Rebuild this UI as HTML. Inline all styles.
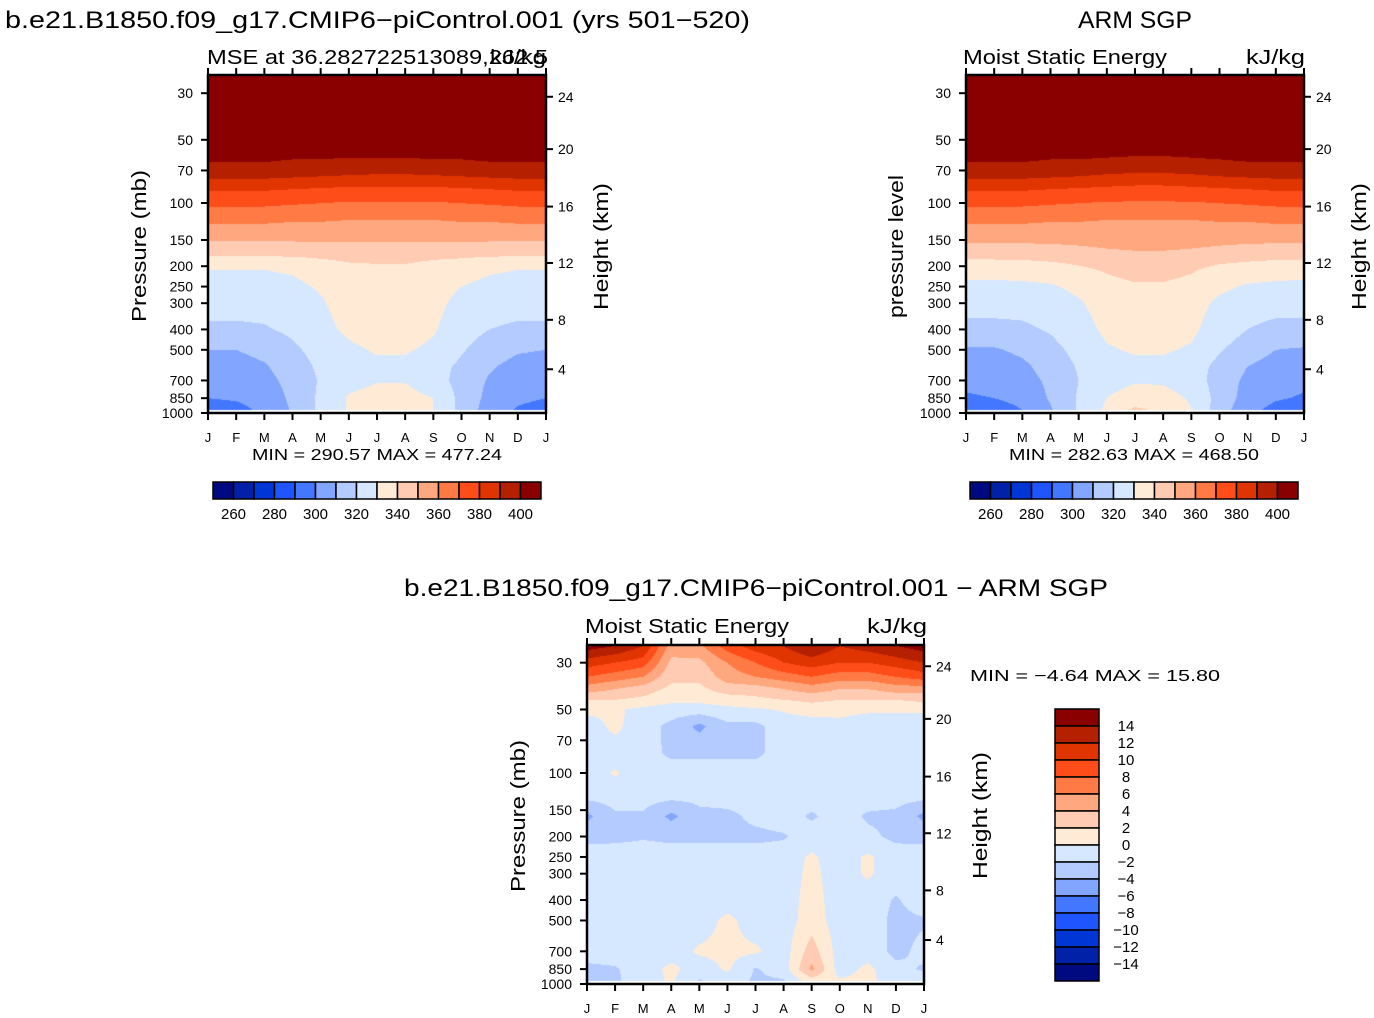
<!DOCTYPE html>
<html><head><meta charset="utf-8">
<style>
html,body{margin:0;padding:0;background:#fff;}
#root{position:relative;width:1374px;height:1018px;overflow:hidden;font-family:"Liberation Sans",sans-serif;}
canvas{position:absolute;}
svg{position:absolute;left:0;top:0;}
text{font-family:"Liberation Sans",sans-serif;fill:#000;}
</style></head>
<body>
<div id="root">
<svg id="ov" width="1374" height="1018"></svg>
</div>
<script>
const months=['J','F','M','A','M','J','J','A','S','O','N','D','J'];
const pressureTicks=[30,50,70,100,150,200,250,300,400,500,700,850,1000];
const heightTicks=[4,8,12,16,20,24];
const heightTickP=[619,360,193,104,55.4,31.2];
const palette=['#000a80','#0021a8','#0036d6','#1f55ff','#4477ff','#82a6ff','#b3cbff','#d6e8ff','#ffead6','#ffcbb2','#ffa880','#ff7a45','#ff4d1a','#e03500','#b52000','#8a0000'];
const mseBarLabels=[260,280,300,320,340,360,380,400];
const diffBarLabels=[14,12,10,8,6,4,2,0,-2,-4,-6,-8,-10,-12,-14];

const modelLevels=[25,50,62,70,86,102,123,150,177,208,250,300,400,500,600,700,850,968];
const modelGrid=[
[420,420,420,420,420,420,420,420,420,420,420,420,420],
[410,410,410,410,410,410,410,410,410,410,410,410,410],
[401,401,401,400,400,399,399,399,400,400,401,401,401],
[397,397,397,396,395,394,393,393,394,395,396,397,397],
[381,381,381,380,379,378,378,378,378,379,380,381,381],
[371,371,371,370,369,368,368,368,368,369,370,371,371],
[361,361,361,360,360,359,359,359,359,360,360,361,361],
[351,351,351,351,351,351,351,351,351,351,351,351,351],
[341,341,341,341,342,343,343,343,342,342,341,341,341],
[330,330,330,331,334,337,338,338,336,333,331,330,330],
[327,327,327,328,331,335,337,337,334,330,328,327,327],
[324,324,324,326,329,334,336,336,333,327,325,324,324],
[318,318,319,322,327,332,335,335,331,324,320,318,318],
[310,310,313,318,324,328,331,331,328,321,315,311,310],
[306,306,309,315,322,326,328,328,324,318,311,307,306],
[303,304,307,313,321,327,329.5,329.5,325,316,309,305,303],
[300,301,304,312,322,331,333,333,330,317,307,302,300],
[296,297,302,311,322,331,334,334,330,317,305,299,296]];

const obsLevels=[25,50,62,70,86,102,123,150,177,208,250,300,400,500,600,700,850,968];
const obsGrid=[
[420,420,420,420,420,420,420,420,420,420,420,420,420],
[410,410,410,410,410,410,410,410,410,410,410,410,410],
[401,401,401,400,400,399,398,398,399,400,401,401,401],
[397,397,397,396,395,393,392,392,393,395,396,397,397],
[381,381,381,380,379,378,377,377,378,379,380,381,381],
[371,371,371,370,369,368,368,368,368,369,370,371,371],
[361,361,361,360,360,359,359,359,359,360,360,361,361],
[352,352,352,352,353,354,355,355,354,353,352,352,352],
[343,343,343,344,345,347,348,348,347,345,344,343,343],
[333,333,334,335,338,341,343,343,341,337,335,334,333],
[328,328,328,329,332,337,339,339,337,332,329,328,328],
[324,324,324,326,329,334,336,336,334,328,325,324,324],
[317,317,318,321,326,332,334,334,332,325,320,317,317],
[309,309,312,317,323,329,331,331,329,321,315,310,309],
[305,305,308,314,321,326,328,328,325,317,310,306,305],
[302,303,306,312,320,327,329,329,326,315,308,304,302],
[299,300,303,311,321,330,334,333,329,316,306,301,299],
[294,295,300,309,321,332,342,338,330,315,303,297,294]];

const diffLevels=[25,30,35,40,45,50,60,80,100,130,160,200,250,300,400,500,700,850,968];
const diffGrid=[
[15,14,12,5,5.5,9,11,12,14,12,13,14,15],
[11,10,9,3.5,3.5,6,8,10,11,10,10,11,12],
[8,7,6,2.5,2.5,5,6,7,8,7,7,8,9],
[5,4,3,1.5,1.5,3,3,4,5,4,4,5,5],
[2,2,1.5,0.5,0.5,1,1.5,2,2.5,2,2,2,2.5],
[0.5,0.3,-0.5,-1,-1,-0.5,-0.3,0.2,0.8,0.5,0.3,0.3,0.3],
[-1,0.5,-1.2,-2.5,-4.5,-2.5,-2.5,-1,-1,-0.5,-1,-1,-1],
[-1,-1,-1,-2.5,-2.5,-2.5,-2.5,-1,-1,-1,-1,-1,-1],
[-1,0.2,-1,-1,-1,-1,-1,-1,-1,-1,-1,-1,-1],
[-1.5,-1.2,-1.2,-1.5,-1.5,-1.2,-1,-1,-1,-1,-1,-1.2,-1.5],
[-4.5,-2.3,-2.3,-4.5,-2.5,-2.5,-1.5,-1,-2.3,-1,-2.3,-2.5,-4.5],
[-2.5,-2.5,-2.2,-2.5,-2.5,-2.5,-2.5,-2.2,-1,-1,-1.5,-2.5,-2.5],
[-1.2,-1,-1,-1,-1,-1,-1,-1,0.3,-1,0.3,-1,-1.2],
[-1,-1,-1,-1,-1,-1,-1,-1,0.5,-1,0.3,-1,-1],
[-1,-1,-1,-1,-1,-1,-1,-1,0.8,-1,-1,-2.2,-1],
[-1,-1,-1,-1,-1,0.5,-1,-1,1,-1,-1,-2.5,-2.2],
[-1,-1,-1,-1,0.3,0.5,0.3,-1,3,-1,-1,-2.5,-1.5],
[-2.5,-2.2,-1,0.5,-1,0.3,-2.2,-1,4.5,-1,0.5,-1.5,-2.2],
[-2.3,-2.3,-1,0.3,-2.2,-1,-2.3,-2.2,1,0.3,0.5,-1,-1]];

const NS='http://www.w3.org/2000/svg';
const ov=document.getElementById('ov');
function hex(c){return [parseInt(c.substr(1,2),16),parseInt(c.substr(3,2),16),parseInt(c.substr(5,2),16)];}
const rgb=palette.map(hex);
function mk(tag,attrs,parent){const e=document.createElementNS(NS,tag);for(const k in attrs)e.setAttribute(k,attrs[k]);(parent||ov).appendChild(e);return e;}
function txt(s,x,y,size,anchor,extra){const t=mk('text',Object.assign({x:x,y:y,'font-size':size,'text-anchor':anchor||'start'},extra||{}));t.textContent=s;return t;}
function mseIdx(v){return Math.max(0,Math.min(15,Math.floor((v-250)/10)));}
function diffIdx(v){return Math.max(0,Math.min(15,Math.floor((v+16)/2)));}

function panel(o){
  const cv=document.createElement('canvas');
  cv.width=o.w;cv.height=o.h;cv.style.left=o.x+'px';cv.style.top=o.y+'px';
  
  
  document.getElementById('root').insertBefore(cv,ov);
  const ctx=cv.getContext('2d');const img=ctx.createImageData(o.w,o.h);
  const L=o.levels.map(p=>Math.log10(p));const n=L.length;
  for(let j=0;j<o.h;j++){
    const yy=o.y+j+0.5;const lp=3-(o.yb-yy)/o.ppd;
    let k,t,white=false;
    if(lp>L[n-1]){white=true;}
    else if(lp<=L[0]){k=0;t=0;}
    else{k=0;while(k<n-2&&lp>L[k+1])k++;t=(lp-L[k])/(L[k+1]-L[k]);}
    for(let i=0;i<o.w;i++){
      const q=(j*o.w+i)*4;
      if(white){img.data[q]=255;img.data[q+1]=255;img.data[q+2]=255;img.data[q+3]=255;continue;}
      const cx=(i+0.5)/o.w*12;const c0=Math.min(11,Math.floor(cx));const u=cx-c0;
      const g=o.grid;
      const a=g[k][c0]*(1-u)+g[k][c0+1]*u;
      const b=g[k+1][c0]*(1-u)+g[k+1][c0+1]*u;
      const v=a*(1-t)+b*t;
      const c=rgb[o.idx(v)];
      img.data[q]=c[0];img.data[q+1]=c[1];img.data[q+2]=c[2];img.data[q+3]=255;
    }
  }
  ctx.putImageData(img,0,0);
  const yOf=p=>o.yb-o.ppd*Math.log10(1000/p);
  const frame=mk('rect',{x:o.x,y:o.y,width:o.w,height:o.h,fill:'none',stroke:'#000','stroke-width':2.5});
  
  
  pressureTicks.forEach(p=>{
    const y=yOf(p);
    const l=mk('line',{x1:o.x-7,x2:o.x,y1:y,y2:y,stroke:'#000','stroke-width':2});
    
    
    const t=txt(String(p),o.x-15,y+5,14,'end');
    
    
  });
  heightTicks.forEach((h,i)=>{
    const y=yOf(heightTickP[i]);
    const l=mk('line',{x1:o.x+o.w,x2:o.x+o.w+7,y1:y,y2:y,stroke:'#000','stroke-width':2});
    
    
    const t=txt(String(h),o.x+o.w+12,y+5,14,'start');
    
    
  });
  months.forEach((m,i)=>{
    const x=o.x+o.w*i/12;
    const l1=mk('line',{x1:x,x2:x,y1:o.y-7,y2:o.y,stroke:'#000','stroke-width':2});
    
    
    const l2=mk('line',{x1:x,x2:x,y1:o.y+o.h,y2:o.y+o.h+7,stroke:'#000','stroke-width':2});
    
    
    const t=txt(m,x,o.y+o.h+29,13,'middle');
    
    
  });
}
function hbar(x,y,w,h,name){
  const bw=w/16;
  for(let i=0;i<16;i++){
    const r=mk('rect',{x:x+i*bw,y:y,width:bw,height:h,fill:palette[i],stroke:'#000','stroke-width':1.5});
    
    
  }
  mseBarLabels.forEach(v=>{
    const k=(v-250)/10;
    const t=txt(String(v),x+k*bw,y+37,15,'middle');
    
    
  });
}
function vbar(x,y,w,h,name){
  const bh=h/16;
  for(let i=0;i<16;i++){
    const r=mk('rect',{x:x,y:y+i*bh,width:w,height:bh,fill:palette[15-i],stroke:'#000','stroke-width':1.5});
    
    
  }
  diffBarLabels.forEach(v=>{
    const k=(14-v)/2+1;
    const t=txt(String(v).replace('-','\u2212'),x+w+27,y+k*bh+5,15,'middle');
    
    
  });
}

panel({name:'model-panel',x:208,y:75,w:338,h:338,yb:413,ppd:210,levels:modelLevels,grid:modelGrid,idx:mseIdx});
panel({name:'obs-panel',x:966,y:75,w:338,h:338,yb:413,ppd:210,levels:obsLevels,grid:obsGrid,idx:mseIdx});
panel({name:'diff-panel',x:587,y:645,w:337,h:339,yb:984,ppd:211,levels:diffLevels,grid:diffGrid,idx:diffIdx});
hbar(213,482,328,17,'model-colorbar');
hbar(970,482,328,17,'obs-colorbar');
vbar(1055,709,44,272,'diff-colorbar');

function label(s,x,y,size,anchor,len,name,rot){
  const ex={};
  if(len){ex.textLength=len;ex.lengthAdjust='spacingAndGlyphs';}
  if(rot){ex.transform='rotate(-90 '+x+' '+y+')';}
  const t=txt(s,x,y,size,anchor,ex);
  
  
}
label('b.e21.B1850.f09_g17.CMIP6\u2212piControl.001 (yrs 501\u2212520)',5,28,24,'start',745,'model-title');
label('ARM SGP',1078,28,24,'start',114,'obs-title');
label('MSE at 36.282722513089,262.5',207,64,20,'start',341,'model-subtitle');
label('kJ/kg',490,64,20,'start',56,'model-units');
label('Moist Static Energy',963,64,20,'start',204,'obs-subtitle');
label('kJ/kg',1246,64,20,'start',59,'obs-units');
label('Pressure (mb)',146,322,20,'start',152,'model-y-axis-title',true);
label('pressure level',903,318,20,'start',143,'obs-y-axis-title',true);
label('Height (km)',608,310,20,'start',127,'model-right-axis-title',true);
label('Height (km)',1366,310,20,'start',127,'obs-right-axis-title',true);
label('MIN = 290.57 MAX = 477.24',252,460,16,'start',250,'model-min-max');
label('MIN = 282.63 MAX = 468.50',1009,460,16,'start',250,'obs-min-max');
label('b.e21.B1850.f09_g17.CMIP6\u2212piControl.001 \u2212 ARM SGP',404,596,24,'start',704,'diff-title');
label('Moist Static Energy',585,633,20,'start',204,'diff-subtitle');
label('kJ/kg',867,633,20,'start',60,'diff-units');
label('Pressure (mb)',525,892,20,'start',152,'diff-y-axis-title',true);
label('Height (km)',987,879,20,'start',127,'diff-right-axis-title',true);
label('MIN = \u22124.64 MAX = 15.80',970,681,16,'start',250,'diff-min-max');
</script>
</body></html>
